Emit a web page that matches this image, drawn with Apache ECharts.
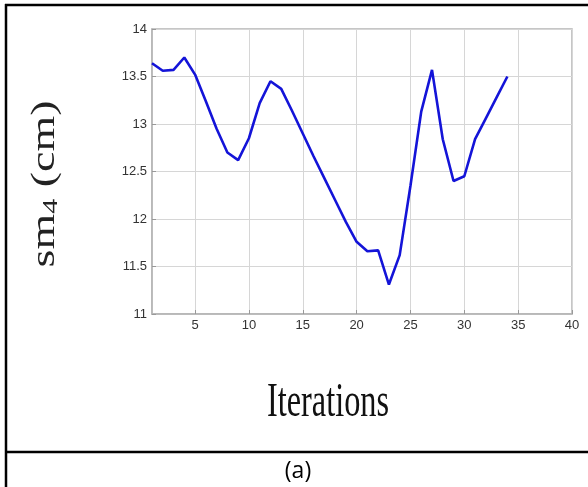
<!DOCTYPE html>
<html>
<head>
<meta charset="utf-8">
<style>
  html, body { margin: 0; padding: 0; background: #fff; }
  #chart { width: 588px; height: 487px; }
</style>
<script src="https://cdn.jsdelivr.net/npm/echarts@6/dist/echarts.min.js"></script>
</head>
<body>
<div id="chart"></div>
<script>
// iteration number and sm4 value (cm) at each iteration
const iterations = [1, 2, 3, 4, 5, 6, 7, 8, 9, 10, 11, 12, 13, 14, 15, 16, 17,
  18, 19, 20, 21, 22, 23, 24, 25, 26, 27, 28, 29, 30, 31, 32, 33, 34];
const sm4Values = [13.64, 13.56, 13.57, 13.70, 13.52, 13.24, 12.95, 12.70, 12.62, 12.85,
  13.22, 13.45, 13.37, 13.14, 12.90, 12.66, 12.43, 12.20, 11.97, 11.76,
  11.66, 11.67, 11.31, 11.62, 12.35, 13.13, 13.57, 12.84, 12.40, 12.45,
  12.84, 13.06, 13.28, 13.50];

const xRange = [1, 40];
const yRange = [11, 14];
const yStep = 0.5;

const xLabel = 'Iterations';
const caption = '(a)';

const chart = echarts.init(document.getElementById('chart'), null, { renderer: 'canvas' });

const gridColor = '#d6d6d6';
const frameColor = '#b4b4b4';
const tickFont = 'Liberation Sans, Arial, sans-serif';
const serif = 'Liberation Serif, Times New Roman, serif';

chart.setOption({
  animation: false,
  backgroundColor: '#fff',
  grid: {
    left: 152, right: 16, top: 29, bottom: 173,
    show: true, borderColor: frameColor, borderWidth: 1.5,
    containLabel: false
  },
  xAxis: {
    type: 'value',
    min: xRange[0], max: xRange[1],
    splitNumber: 8,
    axisLine: { show: true, lineStyle: { color: frameColor, width: 1.5 } },
    axisTick: { show: true, inside: true, length: 4, lineStyle: { color: '#999' } },
    axisLabel: {
      showMinLabel: false,
      color: '#333', fontSize: 13, fontFamily: tickFont, margin: 5
    },
    splitLine: { show: true, lineStyle: { color: gridColor, width: 1 } }
  },
  yAxis: {
    type: 'value',
    min: yRange[0], max: yRange[1], interval: yStep,
    axisLine: { show: true, lineStyle: { color: frameColor, width: 1.5 } },
    axisTick: { show: true, inside: true, length: 4, lineStyle: { color: '#999' } },
    axisLabel: {
      color: '#333', fontSize: 13, fontFamily: tickFont, margin: 5
    },
    splitLine: { show: true, lineStyle: { color: gridColor, width: 1 } }
  },
  series: [{
    type: 'line',
    data: iterations.map((it, i) => [it, sm4Values[i]]),
    showSymbol: false,
    lineStyle: { color: '#1414d8', width: 2.6 },
    itemStyle: { color: '#1414d8' },
    z: 5
  }],
  graphic: [
    // outer table frame
    { type: 'line', shape: { x1: 6, y1: 4, x2: 6, y2: 487 }, style: { stroke: '#000', lineWidth: 2.5 } },
    { type: 'line', shape: { x1: 5, y1: 5, x2: 588, y2: 5 }, style: { stroke: '#000', lineWidth: 2.5 } },
    { type: 'line', shape: { x1: 5, y1: 452, x2: 588, y2: 452 }, style: { stroke: '#000', lineWidth: 2.5 } },
    // y axis title, rotated and narrowed
    {
      type: 'text', x: 44, y: 184, rotation: Math.PI / 2, scaleY: 0.72,
      style: {
        text: '{a|sm}{b|4}{a| (cm)}',
        align: 'center', verticalAlign: 'middle',
        fill: '#222',
        rich: {
          a: { fontSize: 46, fontFamily: serif, lineHeight: 50, verticalAlign: 'bottom', fill: '#222' },
          b: { fontSize: 30, fontFamily: serif, lineHeight: 50, verticalAlign: 'bottom', fill: '#222' }
        }
      }
    },
    // x axis title, narrowed
    {
      type: 'text', x: 328, y: 403, scaleX: 0.66,
      style: {
        text: xLabel, align: 'center', verticalAlign: 'middle',
        font: '49px ' + serif, fill: '#111'
      }
    },
    // panel caption
    {
      type: 'text', x: 298, y: 471,
      style: {
        text: caption, align: 'center', verticalAlign: 'middle',
        font: '23px "Open Sans", sans-serif', fill: '#000'
      }
    }
  ]
});
</script>
</body>
</html>
